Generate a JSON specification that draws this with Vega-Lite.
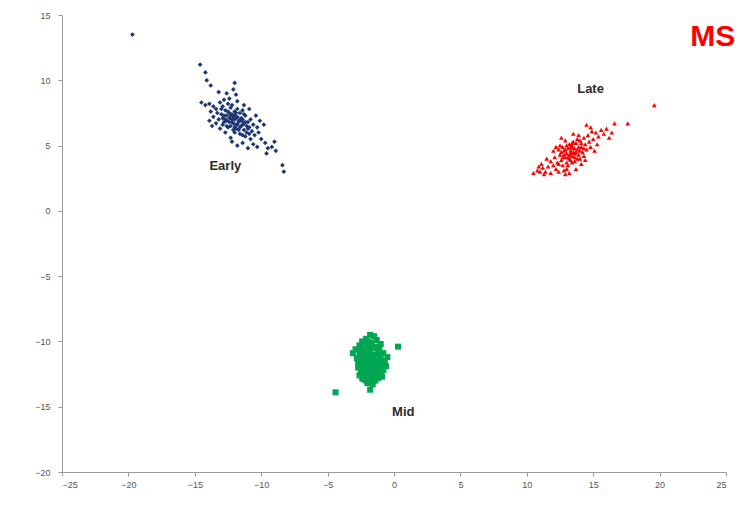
{
  "$schema": "https://vega.github.io/schema/vega-lite/v6.json",
  "width": 664,
  "height": 457,
  "autosize": "none",
  "padding": {"left": 62, "top": 15, "right": 19, "bottom": 47},
  "background": "white",
  "config": {
    "view": {"stroke": null},
    "axis": {
      "grid": false,
      "domainColor": "#9a9a9a",
      "tickColor": "#9a9a9a",
      "tickSize": 4,
      "labelFont": "Liberation Sans",
      "labelFontSize": 9,
      "labelColor": "#555555",
      "title": null
    }
  },
  "datasets": {
    "early": [
      {"x": -19.7, "y": 13.5}, {"x": -14.6, "y": 11.2}, {"x": -14.2, "y": 10.6}, {"x": -14.1, "y": 10.0},
      {"x": -13.8, "y": 9.6}, {"x": -13.2, "y": 9.1}, {"x": -12.6, "y": 9.0}, {"x": -12.0, "y": 9.8},
      {"x": -12.1, "y": 9.3}, {"x": -11.9, "y": 8.9}, {"x": -14.5, "y": 8.3}, {"x": -14.2, "y": 8.1},
      {"x": -13.9, "y": 8.2}, {"x": -13.6, "y": 8.0}, {"x": -13.4, "y": 7.8}, {"x": -13.1, "y": 8.3},
      {"x": -12.9, "y": 8.0}, {"x": -12.7, "y": 7.7}, {"x": -12.5, "y": 8.2}, {"x": -12.3, "y": 7.9},
      {"x": -12.2, "y": 7.4}, {"x": -12.0, "y": 7.6}, {"x": -11.8, "y": 7.2}, {"x": -11.6, "y": 7.5},
      {"x": -11.4, "y": 7.0}, {"x": -11.2, "y": 7.3}, {"x": -11.0, "y": 6.8}, {"x": -12.4, "y": 7.1},
      {"x": -12.6, "y": 6.9}, {"x": -12.8, "y": 7.3}, {"x": -13.0, "y": 7.4}, {"x": -13.2, "y": 7.0},
      {"x": -12.9, "y": 6.6}, {"x": -12.5, "y": 6.4}, {"x": -12.1, "y": 6.7}, {"x": -11.9, "y": 6.3},
      {"x": -11.7, "y": 6.8}, {"x": -11.5, "y": 6.5}, {"x": -11.3, "y": 6.2}, {"x": -11.1, "y": 6.0},
      {"x": -10.9, "y": 6.4}, {"x": -10.7, "y": 6.1}, {"x": -10.5, "y": 5.8}, {"x": -10.8, "y": 5.5},
      {"x": -11.2, "y": 5.7}, {"x": -11.6, "y": 5.9}, {"x": -12.0, "y": 6.0}, {"x": -12.3, "y": 5.6},
      {"x": -12.7, "y": 6.0}, {"x": -13.1, "y": 6.3}, {"x": -13.4, "y": 6.7}, {"x": -13.6, "y": 7.2},
      {"x": -13.8, "y": 7.6}, {"x": -13.3, "y": 7.5}, {"x": -12.8, "y": 8.5}, {"x": -12.4, "y": 8.6},
      {"x": -11.8, "y": 8.4}, {"x": -11.3, "y": 8.1}, {"x": -10.9, "y": 7.8}, {"x": -10.4, "y": 7.3},
      {"x": -10.1, "y": 6.9}, {"x": -9.8, "y": 6.6}, {"x": -10.2, "y": 6.0}, {"x": -10.0, "y": 5.5},
      {"x": -9.7, "y": 5.2}, {"x": -9.5, "y": 4.8}, {"x": -9.2, "y": 4.9}, {"x": -9.0, "y": 5.3},
      {"x": -8.9, "y": 4.6}, {"x": -9.6, "y": 4.4}, {"x": -10.3, "y": 4.9}, {"x": -10.6, "y": 5.1},
      {"x": -11.0, "y": 4.8}, {"x": -11.4, "y": 5.2}, {"x": -11.8, "y": 5.0}, {"x": -12.2, "y": 5.3},
      {"x": -8.4, "y": 3.5}, {"x": -8.3, "y": 3.0}, {"x": -13.7, "y": 6.5}, {"x": -13.9, "y": 6.9},
      {"x": -12.0, "y": 7.0}, {"x": -11.9, "y": 7.1}, {"x": -12.1, "y": 7.2}, {"x": -11.7, "y": 6.9},
      {"x": -11.5, "y": 7.1}, {"x": -12.3, "y": 7.3}, {"x": -12.5, "y": 7.6}, {"x": -11.3, "y": 6.7},
      {"x": -11.1, "y": 6.5}, {"x": -12.2, "y": 6.8}, {"x": -11.6, "y": 6.4}, {"x": -11.9, "y": 6.6},
      {"x": -12.4, "y": 6.8}, {"x": -12.7, "y": 7.0}, {"x": -11.4, "y": 7.7}, {"x": -10.8, "y": 7.0},
      {"x": -10.6, "y": 6.6}, {"x": -10.3, "y": 6.4},
      {"x": -12.0, "y": 6.4}, {"x": -11.8, "y": 6.6}, {"x": -12.2, "y": 7.0}, {"x": -11.6, "y": 7.0},
      {"x": -12.6, "y": 7.3}, {"x": -12.0, "y": 7.3}, {"x": -11.4, "y": 6.6}, {"x": -11.7, "y": 6.2},
      {"x": -12.3, "y": 6.5}, {"x": -12.8, "y": 6.8}, {"x": -11.2, "y": 6.8}, {"x": -11.9, "y": 7.5},
      {"x": -12.4, "y": 7.5}, {"x": -12.9, "y": 7.1}, {"x": -11.5, "y": 6.9}, {"x": -11.0, "y": 6.3},
      {"x": -11.3, "y": 7.4}, {"x": -12.1, "y": 6.2}, {"x": -12.6, "y": 6.5}, {"x": -11.8, "y": 7.8},
      {"x": -13.0, "y": 7.8}, {"x": -12.2, "y": 8.1}, {"x": -10.9, "y": 5.9}, {"x": -11.4, "y": 5.8}
    ],
    "late": [
      {"x": 10.5, "y": 2.9}, {"x": 10.8, "y": 3.1}, {"x": 11.0, "y": 3.0}, {"x": 11.2, "y": 3.3},
      {"x": 11.4, "y": 3.0}, {"x": 11.1, "y": 3.6}, {"x": 11.6, "y": 3.4}, {"x": 11.8, "y": 3.8},
      {"x": 11.5, "y": 4.0}, {"x": 12.0, "y": 3.5}, {"x": 12.2, "y": 3.2}, {"x": 12.4, "y": 3.0},
      {"x": 12.1, "y": 4.1}, {"x": 12.3, "y": 3.7}, {"x": 12.5, "y": 4.3}, {"x": 12.6, "y": 3.9},
      {"x": 12.7, "y": 3.5}, {"x": 12.8, "y": 4.6}, {"x": 12.9, "y": 4.1}, {"x": 13.0, "y": 3.7},
      {"x": 13.1, "y": 4.8}, {"x": 13.2, "y": 4.3}, {"x": 13.3, "y": 3.9}, {"x": 13.4, "y": 5.0},
      {"x": 13.5, "y": 4.5}, {"x": 13.6, "y": 4.1}, {"x": 13.7, "y": 5.2}, {"x": 13.8, "y": 4.7},
      {"x": 13.9, "y": 4.3}, {"x": 14.0, "y": 5.4}, {"x": 14.1, "y": 4.9}, {"x": 14.2, "y": 4.5},
      {"x": 14.3, "y": 5.6}, {"x": 14.4, "y": 5.1}, {"x": 14.5, "y": 4.7}, {"x": 14.6, "y": 5.8},
      {"x": 14.7, "y": 5.3}, {"x": 14.8, "y": 4.9}, {"x": 15.0, "y": 5.5}, {"x": 15.2, "y": 6.0},
      {"x": 15.4, "y": 5.7}, {"x": 15.6, "y": 6.2}, {"x": 15.8, "y": 5.9}, {"x": 16.0, "y": 6.3},
      {"x": 16.4, "y": 6.0}, {"x": 16.6, "y": 6.7}, {"x": 17.6, "y": 6.7}, {"x": 19.6, "y": 8.1},
      {"x": 14.5, "y": 6.6}, {"x": 14.8, "y": 6.4}, {"x": 12.9, "y": 5.4}, {"x": 12.5, "y": 5.0},
      {"x": 12.0, "y": 4.6}, {"x": 11.8, "y": 2.9}, {"x": 12.9, "y": 2.8}, {"x": 13.2, "y": 2.9},
      {"x": 13.7, "y": 3.2}, {"x": 14.1, "y": 3.6}, {"x": 14.4, "y": 3.9}, {"x": 13.0, "y": 4.4},
      {"x": 13.3, "y": 4.6}, {"x": 13.6, "y": 4.8}, {"x": 13.2, "y": 5.1}, {"x": 13.5, "y": 5.3},
      {"x": 13.8, "y": 5.5}, {"x": 13.1, "y": 3.5}, {"x": 13.4, "y": 3.7}, {"x": 12.7, "y": 4.9},
      {"x": 14.0, "y": 4.0}, {"x": 14.3, "y": 4.2}, {"x": 13.9, "y": 5.8}, {"x": 13.5, "y": 5.9},
      {"x": 12.4, "y": 4.7}, {"x": 12.2, "y": 4.9}, {"x": 15.1, "y": 4.6}, {"x": 15.3, "y": 5.1},
      {"x": 11.3, "y": 2.8}, {"x": 10.9, "y": 3.4}, {"x": 16.2, "y": 5.6}, {"x": 12.6, "y": 5.6},
      {"x": 14.9, "y": 6.1}, {"x": 13.0, "y": 3.2}, {"x": 12.8, "y": 3.1}, {"x": 13.4, "y": 4.2},
      {"x": 13.6, "y": 4.4}, {"x": 13.2, "y": 4.0}, {"x": 13.8, "y": 4.0}, {"x": 12.8, "y": 4.3},
      {"x": 13.3, "y": 4.4}, {"x": 13.5, "y": 4.8}, {"x": 13.1, "y": 4.1}, {"x": 13.7, "y": 4.5},
      {"x": 13.9, "y": 4.9}, {"x": 12.9, "y": 4.7}, {"x": 13.4, "y": 5.2}, {"x": 14.1, "y": 5.2},
      {"x": 12.7, "y": 4.1}, {"x": 13.0, "y": 5.0}, {"x": 14.3, "y": 4.8}, {"x": 12.6, "y": 4.5},
      {"x": 13.6, "y": 3.8}, {"x": 12.4, "y": 3.6}, {"x": 14.0, "y": 4.6}, {"x": 13.3, "y": 4.9}
    ],
    "mid": [
      {"x": -1.8, "y": -9.5}, {"x": -1.5, "y": -9.6}, {"x": -2.1, "y": -9.8}, {"x": -1.3, "y": -9.9},
      {"x": -2.4, "y": -10.0}, {"x": -1.7, "y": -10.1}, {"x": -1.0, "y": -10.2}, {"x": -2.6, "y": -10.3},
      {"x": -2.0, "y": -10.4}, {"x": -1.4, "y": -10.4}, {"x": -2.9, "y": -10.6}, {"x": -2.3, "y": -10.7},
      {"x": -1.8, "y": -10.7}, {"x": -1.2, "y": -10.8}, {"x": -0.8, "y": -10.9}, {"x": -3.1, "y": -10.9},
      {"x": -2.6, "y": -11.0}, {"x": -2.1, "y": -11.1}, {"x": -1.6, "y": -11.1}, {"x": -1.0, "y": -11.2},
      {"x": -0.5, "y": -11.2}, {"x": -2.8, "y": -11.3}, {"x": -2.3, "y": -11.4}, {"x": -1.8, "y": -11.4},
      {"x": -1.3, "y": -11.5}, {"x": -0.7, "y": -11.5}, {"x": -2.5, "y": -11.7}, {"x": -2.0, "y": -11.7},
      {"x": -1.5, "y": -11.8}, {"x": -1.0, "y": -11.8}, {"x": -2.7, "y": -12.0}, {"x": -2.2, "y": -12.0},
      {"x": -1.7, "y": -12.1}, {"x": -1.2, "y": -12.1}, {"x": -0.8, "y": -12.2}, {"x": -2.4, "y": -12.3},
      {"x": -1.9, "y": -12.4}, {"x": -1.4, "y": -12.4}, {"x": -1.0, "y": -12.5}, {"x": -2.6, "y": -12.6},
      {"x": -2.1, "y": -12.7}, {"x": -1.6, "y": -12.7}, {"x": -1.2, "y": -12.8}, {"x": -2.3, "y": -12.9},
      {"x": -1.8, "y": -13.0}, {"x": -1.4, "y": -13.0}, {"x": -2.0, "y": -13.2}, {"x": -1.6, "y": -13.3},
      {"x": -1.8, "y": -13.7}, {"x": -4.4, "y": -13.9}, {"x": 0.3, "y": -10.4}, {"x": -1.9, "y": -10.0},
      {"x": -2.2, "y": -10.2}, {"x": -1.6, "y": -10.5}, {"x": -2.5, "y": -10.6}, {"x": -1.1, "y": -10.6},
      {"x": -2.0, "y": -10.9}, {"x": -1.4, "y": -11.0}, {"x": -2.4, "y": -11.1}, {"x": -1.9, "y": -11.2},
      {"x": -1.1, "y": -11.4}, {"x": -2.1, "y": -11.5}, {"x": -1.6, "y": -11.5}, {"x": -2.7, "y": -11.6},
      {"x": -1.2, "y": -11.7}, {"x": -0.9, "y": -11.6}, {"x": -2.3, "y": -11.8}, {"x": -1.8, "y": -11.9},
      {"x": -1.4, "y": -12.0}, {"x": -2.5, "y": -12.2}, {"x": -2.0, "y": -12.2}, {"x": -1.5, "y": -12.2},
      {"x": -1.1, "y": -12.3}, {"x": -2.2, "y": -12.5}, {"x": -1.7, "y": -12.5}, {"x": -1.3, "y": -12.6},
      {"x": -2.4, "y": -12.8}, {"x": -1.9, "y": -12.8}, {"x": -1.5, "y": -12.9}, {"x": -2.1, "y": -13.0},
      {"x": -1.7, "y": -13.1}, {"x": -1.5, "y": -12.4}, {"x": -1.9, "y": -11.6}, {"x": -2.6, "y": -11.4},
      {"x": -0.6, "y": -11.9}, {"x": -0.9, "y": -12.7}
    ],
    "labels": [
      {"x": -12.7, "y": 3.4, "text": "Early"},
      {"x": 14.8, "y": 9.3, "text": "Late"},
      {"x": 0.7, "y": -15.4, "text": "Mid"}
    ],
    "corner": [
      {"x": 24.0, "y": 13.3, "text": "MS"}
    ]
  },
  "encoding": {
    "x": {"field": "x", "type": "quantitative", "scale": {"domain": [-25, 25], "nice": false, "zero": false},
          "axis": {"values": [-25, -20, -15, -10, -5, 0, 5, 10, 15, 20, 25], "labelPadding": 4}},
    "y": {"field": "y", "type": "quantitative", "scale": {"domain": [-20, 15], "nice": false, "zero": false},
          "axis": {"values": [-20, -15, -10, -5, 0, 5, 10, 15], "labelPadding": 8}}
  },
  "layer": [
    {"data": {"name": "early"}, "mark": {"type": "point", "shape": "diamond", "filled": true, "size": 22, "color": "#1c3771", "opacity": 1}},
    {"data": {"name": "late"}, "mark": {"type": "point", "shape": "triangle-up", "filled": true, "size": 22, "color": "#ff0000", "opacity": 1}},
    {"data": {"name": "mid"}, "mark": {"type": "point", "shape": "square", "filled": true, "size": 36, "color": "#00a651", "opacity": 1}},
    {"data": {"name": "labels"}, "mark": {"type": "text", "font": "Liberation Sans", "fontWeight": "bold", "fontSize": 13, "color": "#2b2b2b", "align": "center", "baseline": "middle"},
     "encoding": {"text": {"field": "text"}}},
    {"data": {"name": "corner"}, "mark": {"type": "text", "font": "Liberation Sans", "fontWeight": "bold", "fontSize": 30, "color": "#ff0000", "align": "center", "baseline": "middle"},
     "encoding": {"text": {"field": "text"}}}
  ]
}
